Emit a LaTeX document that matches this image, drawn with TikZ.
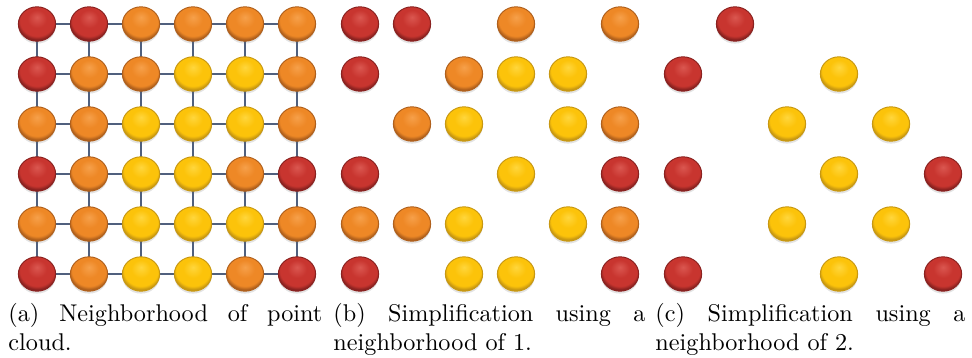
\documentclass[tikz,border=0pt]{standalone}
\usepackage{tikz}
\usetikzlibrary{shapes.geometric, shadows, backgrounds}

\definecolor{redrim}{HTML}{8A2220}
\definecolor{redmid}{HTML}{C8352F}
\definecolor{redtop}{HTML}{DA5750}
\definecolor{orgrim}{HTML}{B0601C}
\definecolor{orgmid}{HTML}{EE8826}
\definecolor{orgtop}{HTML}{F6A04A}
\definecolor{ylwrim}{HTML}{C89812}
\definecolor{ylwmid}{HTML}{FCC30A}
\definecolor{ylwtop}{HTML}{FFD63C}
\definecolor{linkblue}{HTML}{50607E}

\pgfdeclareradialshading{ballR}{\pgfpoint{0bp}{10bp}}{color(0bp)=(redtop); color(13bp)=(redmid); color(23bp)=(redmid); color(27bp)=(redrim); color(50bp)=(redrim)}
\pgfdeclareradialshading{ballO}{\pgfpoint{0bp}{10bp}}{color(0bp)=(orgtop); color(13bp)=(orgmid); color(23bp)=(orgmid); color(27bp)=(orgrim); color(50bp)=(orgrim)}
\pgfdeclareradialshading{ballY}{\pgfpoint{0bp}{10bp}}{color(0bp)=(ylwtop); color(13bp)=(ylwmid); color(23bp)=(ylwmid); color(27bp)=(ylwrim); color(50bp)=(ylwrim)}

\tikzset{
  ball/.style={
    ellipse, inner sep=0pt, minimum width=15.4pt, minimum height=14.2pt,
    line width=0.4pt, shade,
    drop shadow={shadow xshift=0pt, shadow yshift=-1pt, opacity=.18, fill=black!60}
  },
  ballR/.style={ball, shading=ballR, draw=redrim},
  ballO/.style={ball, shading=ballO, draw=orgrim},
  ballY/.style={ball, shading=ballY, draw=ylwrim},
  link/.style={line width=0.5pt, draw=linkblue},
  subcap/.style={anchor=north west, inner sep=0pt, align=justify}
}

\begin{document}
\begin{tikzpicture}[x=0.4132pt, y=-0.4132pt]
  \useasboundingbox (0,0) rectangle (972,357);

  % (a) full point cloud
  \foreach \row [count=\ri] in {{R,R,O,O,O,O},{R,O,O,Y,Y,O},{O,O,Y,Y,Y,O},
                                {R,O,Y,Y,O,R},{O,O,Y,Y,Y,O},{R,O,Y,Y,O,R}} {
    \foreach \clr [count=\ci] in \row {
      \node[ball\clr] (a-\ri-\ci) at (37+52*\ci-52, 24+50*\ri-50) {};
    }
  }

  \begin{scope}[on background layer]
    \foreach \ri in {1,...,6} {
      \foreach \ci [evaluate=\ci as \cn using int(\ci+1)] in {1,...,5} {
        \draw[link] (a-\ri-\ci.center) -- (a-\ri-\cn.center);
        \draw[link] (a-\ci-\ri.center) -- (a-\cn-\ri.center);
      }
    }
  \end{scope}

  % (b) neighborhood of 1
  \foreach \row [count=\ri] in {{R,R,-,O,-,O},{R,-,O,Y,Y,-},{-,O,Y,-,Y,O},
                                {R,-,-,Y,-,R},{O,O,Y,-,Y,O},{R,-,Y,Y,-,R}} {
    \foreach \clr [count=\ci] in \row {
      \if\clr-\else
        \node[ball\clr] (b-\ri-\ci) at (360+52*\ci-52, 24+50*\ri-50) {};
      \fi
    }
  }

  % (c) neighborhood of 2
  \foreach \row [count=\ri] in {{-,R,-,-,-,-},{R,-,-,Y,-,-},{-,-,Y,-,Y,-},
                                {R,-,-,Y,-,R},{-,-,Y,-,Y,-},{R,-,-,Y,-,R}} {
    \foreach \clr [count=\ci] in \row {
      \if\clr-\else
        \node[ball\clr] (c-\ri-\ci) at (683+52*\ci-52, 24+50*\ri-50) {};
      \fi
    }
  }

  % captions
  \node[subcap, text width=129.7pt] (capa) at (8,303)
    {(a) Neighborhood of point cloud.};
  \node[subcap, text width=128.9pt] (capb) at (333,303)
    {(b) Simplification using a neighborhood of 1.};
  \node[subcap, text width=128.1pt] (capc) at (655,303)
    {(c) Simplification using a neighborhood of 2.};

\end{tikzpicture}
\end{document}
